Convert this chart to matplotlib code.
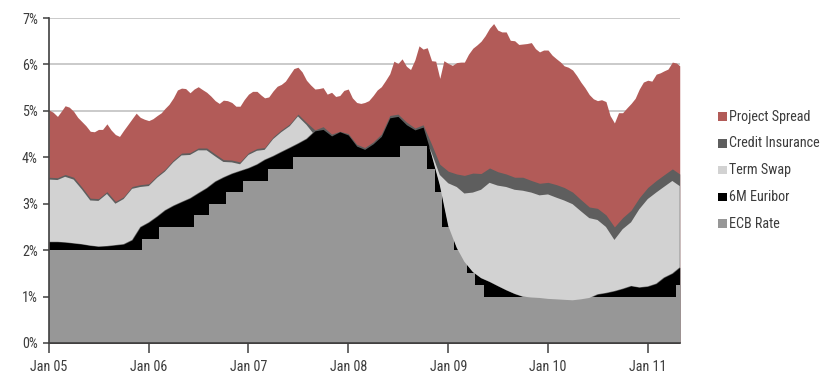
import numpy as np
import pandas as pd
import matplotlib
matplotlib.use("Agg")
import matplotlib.pyplot as plt
import matplotlib.dates as mdates
from matplotlib import font_manager
from matplotlib.patches import Rectangle

# ---------------- data (percent levels) ----------------
series_labels = ["Project Spread", "Credit Insurance", "Term Swap", "6M Euribor", "ECB Rate"]

# top of the red band (total rate), semi-monthly (1st and 16th), last point = end of data
spread_top = [5.02, 4.97, 4.88, 5.00, 5.11, 5.08, 4.99, 4.86, 4.77, 4.68,
              4.56, 4.55, 4.60, 4.60, 4.72, 4.59, 4.49, 4.45, 4.58, 4.70,
              4.83, 4.95, 4.86, 4.82, 4.79, 4.83, 4.90, 4.96, 5.05, 5.14,
              5.28, 5.45, 5.49, 5.48, 5.39, 5.47, 5.52, 5.46, 5.40, 5.32,
              5.22, 5.16, 5.23, 5.22, 5.18, 5.10, 5.10, 5.24, 5.36, 5.42,
              5.42, 5.34, 5.28, 5.30, 5.43, 5.53, 5.57, 5.64, 5.78, 5.91,
              5.94, 5.84, 5.66, 5.56, 5.47, 5.48, 5.50, 5.36, 5.40, 5.31,
              5.33, 5.44, 5.47, 5.28, 5.18, 5.16, 5.18, 5.22, 5.33, 5.45,
              5.52, 5.65, 5.80, 6.07, 6.02, 6.12, 5.96, 5.89, 6.10, 6.40,
              6.33, 6.36, 6.08, 6.07, 5.70, 6.08, 6.02, 5.98, 6.04, 6.05,
              6.05, 6.22, 6.35, 6.42, 6.50, 6.62, 6.78, 6.88, 6.74, 6.70,
              6.70, 6.52, 6.51, 6.43, 6.44, 6.45, 6.47, 6.34, 6.27, 6.31,
              6.31, 6.20, 6.12, 6.05, 5.97, 5.94, 5.88, 5.76, 5.62, 5.50,
              5.35, 5.26, 5.22, 5.24, 5.20, 4.90, 4.74, 4.96, 4.96, 5.06,
              5.16, 5.27, 5.47, 5.62, 5.66, 5.64, 5.79, 5.82, 5.86, 5.90,
              6.05, 6.03, 5.97]

# monthly levels (1st of month), last point = end of data
insurance_top = [3.57, 3.56, 3.63, 3.57, 3.36, 3.12, 3.11, 3.26, 3.05, 3.15,
                 3.37, 3.41, 3.43, 3.61, 3.74, 3.94, 4.09, 4.10, 4.20, 4.20,
                 4.07, 3.95, 3.94, 3.90, 4.10, 4.19, 4.21, 4.44, 4.59, 4.72,
                 4.93, 4.75, 4.59, 4.66, 4.50, 4.56, 4.51, 4.28, 4.21, 4.33,
                 4.50, 4.90, 4.93, 4.76, 4.63, 4.70, 4.28, 3.85, 3.70, 3.64,
                 3.61, 3.66, 3.65, 3.77, 3.69, 3.64, 3.57, 3.57, 3.50, 3.44,
                 3.46, 3.41, 3.35, 3.25, 3.09, 2.93, 2.90, 2.76, 2.50, 2.70,
                 2.86, 3.13, 3.35, 3.50, 3.62, 3.75, 3.64]

swap_rate = [3.52, 3.51, 3.58, 3.52, 3.31, 3.07, 3.06, 3.21, 3.00, 3.10,
             3.32, 3.36, 3.38, 3.56, 3.69, 3.89, 4.04, 4.05, 4.15, 4.15,
             4.02, 3.90, 3.89, 3.85, 4.05, 4.14, 4.16, 4.39, 4.54, 4.67,
             4.88, 4.70, 4.47, 4.50, 4.36, 4.45, 4.38, 4.14, 4.07, 4.19,
             4.35, 4.75, 4.78, 4.60, 4.49, 4.55, 4.10, 3.62, 3.44, 3.36,
             3.22, 3.24, 3.30, 3.45, 3.39, 3.36, 3.30, 3.28, 3.24, 3.18,
             3.20, 3.13, 3.07, 2.99, 2.84, 2.69, 2.65, 2.50, 2.22, 2.45,
             2.60, 2.88, 3.10, 3.24, 3.36, 3.49, 3.38]

euribor_6m = [2.18, 2.18, 2.17, 2.15, 2.13, 2.10, 2.08, 2.09, 2.11, 2.13,
              2.22, 2.50, 2.60, 2.73, 2.86, 2.96, 3.04, 3.12, 3.23, 3.34,
              3.48, 3.57, 3.65, 3.71, 3.77, 3.85, 3.95, 4.03, 4.12, 4.21,
              4.30, 4.40, 4.57, 4.60, 4.46, 4.55, 4.48, 4.24, 4.17, 4.29,
              4.45, 4.85, 4.88, 4.70, 4.59, 4.65, 4.05, 3.40, 2.52, 2.05,
              1.75, 1.53, 1.40, 1.32, 1.23, 1.14, 1.06, 1.00, 0.98, 0.97,
              0.95, 0.94, 0.93, 0.92, 0.94, 0.97, 1.05, 1.08, 1.12, 1.17,
              1.23, 1.20, 1.22, 1.28, 1.41, 1.50, 1.63]

# ECB main refinancing rate: change dates and new rate
ecb_change_dates = ["2005-01-01", "2005-12-06", "2006-02-06", "2006-06-15", "2006-08-09",
                    "2006-10-11", "2006-12-13", "2007-03-14", "2007-06-13", "2008-07-09",
                    "2008-10-15", "2008-11-12", "2008-12-10", "2009-01-21", "2009-03-11",
                    "2009-04-08", "2009-05-13", "2011-04-13", "2011-04-28"]
ecb_rate = [2.00, 2.25, 2.50, 2.75, 3.00, 3.25, 3.50, 3.75, 4.00, 4.25,
            3.75, 3.25, 2.50, 2.00, 1.50, 1.25, 1.00, 1.25, 1.25]

data_end = "2011-04-28"
y_ticks = [0, 1, 2, 3, 4, 5, 6, 7]
y_tick_labels = ["0%", "1%", "2%", "3%", "4%", "5%", "6%", "7%"]

# ---------------- dates ----------------
months = pd.date_range("2005-01-01", "2011-04-01", freq="MS")
end = pd.Timestamp(data_end)
month_x = mdates.date2num(list(months) + [end])
half_x = mdates.date2num(sorted(list(months) + list(months + pd.Timedelta(days=15))) + [end])
ecb_x = mdates.date2num(pd.to_datetime(ecb_change_dates))

spread_top = np.array(spread_top)
insurance_top = np.array(insurance_top)
swap_rate = np.array(swap_rate)
euribor_6m = np.array(euribor_6m)
ecb_rate = np.array(ecb_rate)

# ---------------- style ----------------
names = {f.name for f in font_manager.fontManager.ttflist}
FONT, FS = "Liberation Sans", 9.5
for cand in ["Liberation Sans Narrow", "Arial Narrow", "Roboto Condensed",
             "Open Sans Condensed", "Noto Sans Condensed"]:
    if cand in names:
        FONT, FS = cand, 10.2
        break
plt.rcParams["font.family"] = [FONT, "DejaVu Sans"]

C_SPREAD = "#b25b58"
C_INS = "#5e5e5e"
C_SWAP = "#d2d2d2"
C_EUR = "#000000"
C_ECB = "#979797"
TXT = "#3c3c3c"

fig = plt.figure(figsize=(8.29, 3.76), dpi=100)
ax = fig.add_axes([49 / 829, 33 / 376, 631 / 829, 325 / 376])

ax.fill_between(half_x, 0, spread_top, color=C_SPREAD, lw=0)
ax.fill_between(month_x, 0, insurance_top, color=C_INS, lw=0)
ax.fill_between(month_x, 0, euribor_6m, color=C_EUR, lw=0)
ax.fill_between(ecb_x, 0, ecb_rate, step="post", color=C_ECB, lw=0)
ax.fill_between(month_x, euribor_6m, swap_rate, where=swap_rate > euribor_6m,
                interpolate=True, color=C_SWAP, lw=0)

ax.set_xlim(mdates.date2num(pd.Timestamp("2005-01-01")), mdates.date2num(pd.Timestamp("2011-04-29")))
ax.set_ylim(0, 7)
ax.set_yticks(y_ticks)
ax.set_yticklabels(y_tick_labels)
ax.xaxis.set_major_locator(mdates.YearLocator())
ax.xaxis.set_major_formatter(mdates.DateFormatter("%b %y"))

ax.set_axisbelow(True)
ax.yaxis.grid(True, color="#c6c6c6", lw=1.3)
ax.xaxis.grid(False)
for s in ["top", "right"]:
    ax.spines[s].set_visible(False)
for s in ["left", "bottom"]:
    ax.spines[s].set_color("#404040")
    ax.spines[s].set_linewidth(1.2)
ax.tick_params(axis="y", length=4, width=1.1, color="#404040", pad=4,
               labelsize=FS, labelcolor=TXT)
ax.tick_params(axis="x", length=7, width=1.1, color="#404040", pad=5,
               labelsize=FS, labelcolor=TXT)

# ---------------- legend ----------------
legend_colors = [C_SPREAD, C_INS, C_SWAP, C_EUR, C_ECB]
W, H = 829.0, 376.0
for i, (lab, col) in enumerate(zip(series_labels, legend_colors)):
    yc = 116.7 + i * 26.7
    fig.patches.append(Rectangle((718 / W, 1 - (yc + 4.3) / H), 8.6 / W, 8.6 / H,
                                 transform=fig.transFigure, facecolor=col,
                                 edgecolor="none"))
    fig.text(729.5 / W, 1 - yc / H, lab, ha="left", va="center",
             fontsize=FS, color=TXT)

fig.savefig("out.png", dpi=100)
